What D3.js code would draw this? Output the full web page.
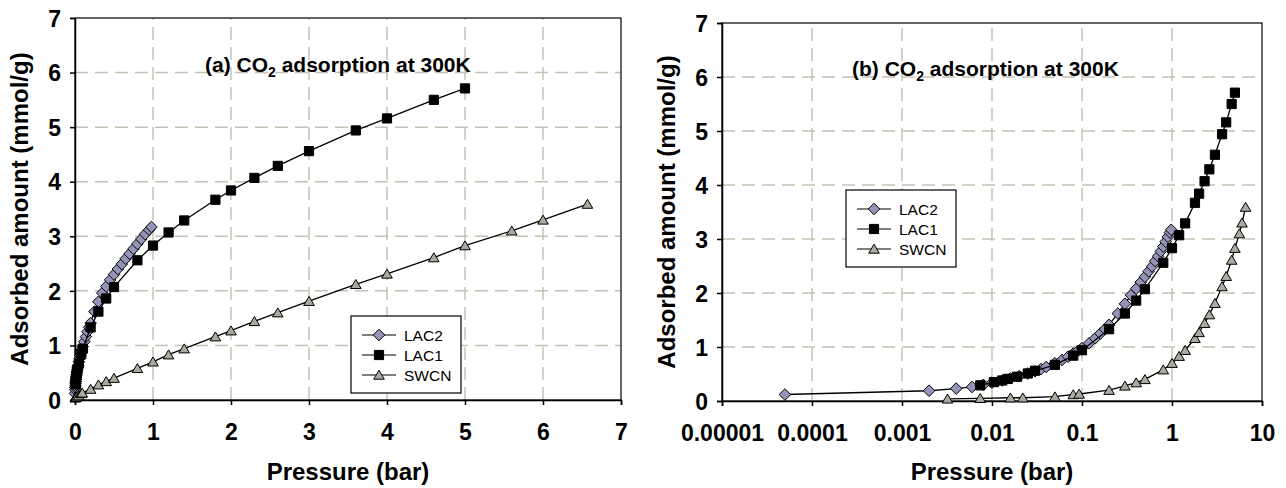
<!DOCTYPE html>
<html>
<head>
<meta charset="utf-8">
<script src="https://cdn.jsdelivr.net/npm/d3@7"></script>
<style>
body { margin: 0; background: #fff; }
svg { display: block; font-family: "Liberation Sans", Arial, sans-serif; }
</style>
</head>
<body>
<svg id="chart" width="1286" height="488"></svg>
<script>
// data: pressure (bar) and adsorbed amount (mmol/g)
var lac2_p = [0.00005, 0.002, 0.004, 0.006, 0.008, 0.010, 0.013, 0.016, 0.02, 0.025, 0.03, 0.035, 0.04, 0.05, 0.06, 0.07, 0.08, 0.09, 0.10, 0.12, 0.14, 0.16, 0.18, 0.20, 0.25, 0.30, 0.35, 0.40, 0.45, 0.50, 0.55, 0.60, 0.65, 0.70, 0.75, 0.80, 0.85, 0.90, 0.95, 0.98];
var lac2_q = [0.12, 0.19, 0.23, 0.26, 0.30, 0.34, 0.38, 0.42, 0.46, 0.51, 0.55, 0.59, 0.63, 0.70, 0.76, 0.82, 0.88, 0.93, 0.98, 1.07, 1.16, 1.25, 1.33, 1.41, 1.62, 1.80, 1.96, 2.08, 2.20, 2.30, 2.40, 2.49, 2.59, 2.68, 2.77, 2.86, 2.95, 3.04, 3.12, 3.17];

var lac1_p = [0.0074, 0.0105, 0.013, 0.015, 0.019, 0.025, 0.03, 0.05, 0.08, 0.1, 0.2, 0.3, 0.4, 0.5, 0.8, 1.0, 1.2, 1.4, 1.8, 2.0, 2.3, 2.6, 3.0, 3.6, 4.0, 4.6, 5.0];
var lac1_q = [0.29, 0.35, 0.38, 0.41, 0.45, 0.51, 0.56, 0.67, 0.84, 0.94, 1.33, 1.62, 1.86, 2.07, 2.56, 2.83, 3.07, 3.29, 3.67, 3.84, 4.07, 4.29, 4.56, 4.94, 5.16, 5.50, 5.71];

var swcn_p = [0.0032, 0.0074, 0.016, 0.022, 0.05, 0.08, 0.093, 0.2, 0.3, 0.4, 0.5, 0.8, 1.0, 1.2, 1.4, 1.8, 2.0, 2.3, 2.6, 3.0, 3.6, 4.0, 4.6, 5.0, 5.6, 6.0, 6.57];
var swcn_q = [0.04, 0.05, 0.06, 0.06, 0.08, 0.12, 0.13, 0.20, 0.28, 0.34, 0.40, 0.58, 0.70, 0.83, 0.94, 1.16, 1.27, 1.44, 1.60, 1.81, 2.12, 2.31, 2.61, 2.83, 3.10, 3.30, 3.59];

var series_names = ["LAC2", "LAC1", "SWCN"];
var y_ticks = [0, 1, 2, 3, 4, 5, 6, 7];
var lin_ticks = [0, 1, 2, 3, 4, 5, 6, 7];
var log_ticks = [0.00001, 0.0001, 0.001, 0.01, 0.1, 1, 10];
var log_labels = ["0.00001", "0.0001", "0.001", "0.01", "0.1", "1", "10"];

var series = [
    { name: "LAC2", p: lac2_p, q: lac2_q, shape: "diamond", fill: "#9494b8" },
    { name: "LAC1", p: lac1_p, q: lac1_q, shape: "square", fill: "#000000" },
    { name: "SWCN", p: swcn_p, q: swcn_q, shape: "triangle", fill: "#a9ab9e" }
];

var svg = d3.select("#chart");
var grid_color = "#c3c3b5";

// marker path centred on 0,0
function marker(shape) {
    if (shape === "diamond") return "M0,-5.8L5.8,0L0,5.8L-5.8,0Z";
    if (shape === "square") return "M-4.6,-4.6H4.6V4.6H-4.6Z";
    return "M0,-4.8L5.3,4.2L-5.3,4.2Z";
}

function panel(cfg) {
    var g = svg.append("g");
    var x = cfg.x, y = cfg.y;
    var x0 = x.range()[0], x1 = x.range()[1];
    var y0 = y.range()[0], y1 = y.range()[1];

    // dashed grid
    g.selectAll(".vg").data(cfg.xticks.slice(1, -1)).join("line")
        .attr("x1", d => x(d)).attr("x2", d => x(d))
        .attr("y1", y0).attr("y2", y1)
        .attr("stroke", grid_color).attr("stroke-width", 1.5)
        .attr("stroke-dasharray", "13,7");
    g.selectAll(".hg").data(y_ticks.slice(1, -1)).join("line")
        .attr("y1", d => y(d)).attr("y2", d => y(d))
        .attr("x1", x0).attr("x2", x1)
        .attr("stroke", grid_color).attr("stroke-width", 1.5)
        .attr("stroke-dasharray", "13,7");

    // frame
    g.append("rect")
        .attr("x", x0).attr("y", y1)
        .attr("width", x1 - x0).attr("height", y0 - y1)
        .attr("fill", "none").attr("stroke", "#000").attr("stroke-width", 1.2);

    var xAxis = d3.axisBottom(x).tickValues(cfg.xticks).tickSize(5).tickFormat(cfg.xfmt);
    var gx = g.append("g").attr("transform", "translate(0," + y0 + ")").call(xAxis);
    gx.select(".domain").attr("stroke-width", 1.5);
    gx.selectAll(".tick line").attr("stroke-width", 1.5);
    gx.selectAll(".tick text").attr("font-size", 23).attr("font-weight", "bold")
        .attr("font-family", "Liberation Sans, Arial, sans-serif").attr("fill", "#000")
        .attr("dy", null).attr("y", 40);

    var yAxis = d3.axisLeft(y).tickValues(y_ticks).tickSize(5).tickFormat(d3.format("d"));
    var gy = g.append("g").attr("transform", "translate(" + x0 + ",0)").call(yAxis);
    gy.select(".domain").attr("stroke-width", 1.5);
    gy.selectAll(".tick line").attr("stroke-width", 1.5);
    gy.selectAll(".tick text").attr("font-size", 23).attr("font-weight", "bold")
        .attr("font-family", "Liberation Sans, Arial, sans-serif").attr("fill", "#000")
        .attr("x", -14).attr("dy", "0.36em");

    // series, later ones drawn on top
    series.forEach(function (s) {
        var pts = s.p.map((p, i) => [p, s.q[i]]);
        var line = d3.line().x(d => x(d[0])).y(d => y(d[1]));
        g.append("path").datum(pts).attr("d", line)
            .attr("fill", "none").attr("stroke", "#000").attr("stroke-width", 1.3);
        g.append("g").selectAll("path").data(pts).join("path")
            .attr("transform", d => "translate(" + x(d[0]) + "," + y(d[1]) + ")")
            .attr("d", marker(s.shape))
            .attr("fill", s.fill).attr("stroke", "#000").attr("stroke-width", 1);
    });

    // title with subscript
    var t = g.append("text").attr("x", cfg.tx).attr("y", cfg.ty)
        .attr("font-size", 21).attr("font-weight", "bold");
    t.append("tspan").text(cfg.label + " CO");
    t.append("tspan").attr("font-size", 14).attr("dy", 5).text("2");
    t.append("tspan").attr("dy", -5).text(" adsorption at 300K");

    // axis titles
    g.append("text").attr("x", (x0 + x1) / 2).attr("y", 480)
        .attr("text-anchor", "middle").attr("font-size", 24).attr("font-weight", "bold")
        .text("Pressure (bar)");
    g.append("text")
        .attr("transform", "translate(" + cfg.ytx + "," + cfg.yty + ") rotate(-90)")
        .attr("text-anchor", "middle").attr("font-size", 24).attr("font-weight", "bold")
        .text("Adsorbed amount (mmol/g)");

    // legend
    var lg = g.append("g").attr("transform", "translate(" + cfg.lx + "," + cfg.ly + ")");
    lg.append("rect").attr("width", 110).attr("height", 77)
        .attr("fill", "#fff").attr("stroke", "#000").attr("stroke-width", 1.2);
    series.forEach(function (s, i) {
        var ey = 19 + i * 20;
        lg.append("line").attr("x1", 11).attr("x2", 45).attr("y1", ey).attr("y2", ey)
            .attr("stroke", "#000").attr("stroke-width", 1.2);
        lg.append("path").attr("transform", "translate(28," + ey + ")")
            .attr("d", marker(s.shape)).attr("fill", s.fill)
            .attr("stroke", "#000").attr("stroke-width", 1);
        lg.append("text").attr("x", 53).attr("y", ey + 5.5)
            .attr("font-size", 15.5).text(series_names[i]);
    });
}

panel({
    x: d3.scaleLinear().domain([0, 7]).range([75, 621]),
    y: d3.scaleLinear().domain([0, 7]).range([400, 18]),
    xticks: lin_ticks, xfmt: d3.format("d"),
    label: "(a)", tx: 205, ty: 72,
    ytx: 28, yty: 209,
    lx: 351, ly: 316
});

panel({
    x: d3.scaleLog().domain([0.00001, 10]).range([722, 1262]),
    y: d3.scaleLinear().domain([0, 7]).range([401, 23]),
    xticks: log_ticks, xfmt: (d, i) => log_labels[i],
    label: "(b)", tx: 852, ty: 76,
    ytx: 675, yty: 212,
    lx: 846, ly: 190
});
</script>
</body>
</html>
